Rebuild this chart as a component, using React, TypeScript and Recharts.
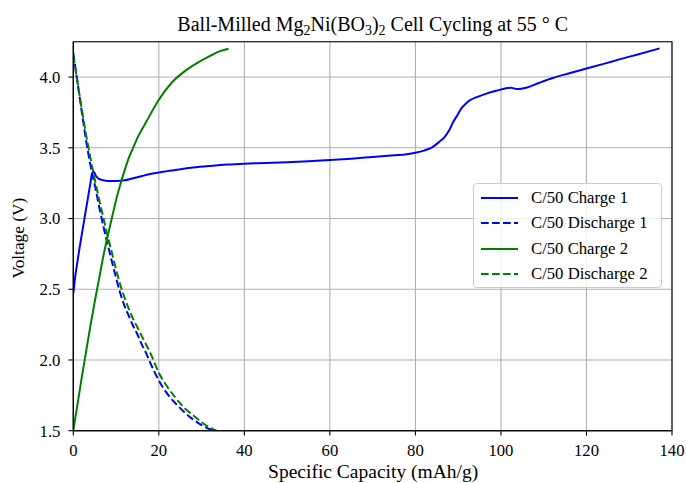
import React from 'react';
import { LineChart, Line, XAxis, YAxis, CartesianGrid, Legend, ReferenceArea } from 'recharts';

// Charge 1 (blue solid)
const charge1Cap = [0, 0.5, 1, 1.5, 2, 2.5, 3, 3.5, 4, 4.4, 4.8, 5.3, 6, 7, 8, 10, 12, 14, 16, 18, 20, 22, 25, 28, 32, 36, 40, 45, 50, 55, 60, 65, 70, 75, 78, 80, 82, 84, 85.5, 86.8, 88, 88.8, 89.8, 90.7, 91.7, 92.7, 94.5, 96.6, 98.5, 100.1, 101.5, 102.4, 103, 103.7, 104.8, 105.9, 109, 112.1, 116, 120, 124, 127.7, 132, 137.1];
const charge1V = [2.47, 2.6, 2.7, 2.8, 2.89, 2.98, 3.07, 3.16, 3.25, 3.32, 3.33, 3.3, 3.28, 3.27, 3.265, 3.265, 3.27, 3.285, 3.3, 3.315, 3.325, 3.335, 3.348, 3.36, 3.372, 3.382, 3.388, 3.392, 3.397, 3.404, 3.413, 3.423, 3.435, 3.447, 3.455, 3.465, 3.48, 3.505, 3.54, 3.576, 3.63, 3.68, 3.73, 3.777, 3.81, 3.835, 3.86, 3.883, 3.9, 3.913, 3.922, 3.925, 3.92, 3.915, 3.918, 3.925, 3.96, 3.993, 4.027, 4.06, 4.093, 4.125, 4.16, 4.203];

// Discharge 1 (blue dashed)
const discharge1Cap = [0, 1, 2, 3, 4, 5, 6, 7, 8, 9, 10, 11, 12, 13, 14, 15, 16, 17, 18, 20, 22, 24, 26, 28, 30, 32, 33];
const discharge1V = [4.17, 3.96, 3.75, 3.55, 3.38, 3.24, 3.09, 2.95, 2.82, 2.7, 2.58, 2.47, 2.38, 2.31, 2.24, 2.18, 2.11, 2.05, 1.98, 1.855, 1.76, 1.69, 1.63, 1.58, 1.54, 1.51, 1.5];

// Charge 2 (green solid)
const charge2Cap = [0, 1, 2, 3, 4, 5, 6, 7, 8, 9, 10, 11, 12, 13, 14, 15, 17, 20, 23, 26, 29, 32, 34, 36.3];
const charge2V = [1.5, 1.69, 1.88, 2.06, 2.24, 2.41, 2.57, 2.73, 2.87, 3.0, 3.13, 3.24, 3.34, 3.43, 3.5, 3.57, 3.68, 3.84, 3.96, 4.04, 4.1, 4.15, 4.18, 4.2];

// Discharge 2 (green dashed)
const discharge2Cap = [0, 1, 2, 3, 4, 5, 6, 7, 8, 9, 10, 11, 12, 13, 14, 15, 16, 17, 18, 20, 22, 24, 26, 28, 30, 32, 33.5];
const discharge2V = [4.15, 3.96, 3.77, 3.59, 3.43, 3.28, 3.14, 3.01, 2.88, 2.76, 2.64, 2.53, 2.44, 2.36, 2.29, 2.23, 2.17, 2.11, 2.05, 1.91, 1.81, 1.73, 1.66, 1.61, 1.56, 1.52, 1.5];

const xTicks = [0, 20, 40, 60, 80, 100, 120, 140];
const yTicks = [1.5, 2.0, 2.5, 3.0, 3.5, 4.0];

const seriesNames = ['C/50 Charge 1', 'C/50 Discharge 1', 'C/50 Charge 2', 'C/50 Discharge 2'];
const seriesColors = ['#0000ff', '#0000ff', '#008000', '#008000'];
const seriesDashed = [false, true, false, true];

const toPoints = (xs: number[], ys: number[]) => xs.map((x, i) => ({ x, v: ys[i] }));
const seriesData = [
  toPoints(charge1Cap, charge1V),
  toPoints(discharge1Cap, discharge1V),
  toPoints(charge2Cap, charge2V),
  toPoints(discharge2Cap, discharge2V),
];

const FONT = '"Liberation Serif", "Times New Roman", serif';
const DASH = '7.7 3.3';

const XLabel = (props: any) => {
  const vb = props.viewBox || {};
  return (
    <text x={vb.x + vb.width / 2 + 0.5} y={vb.y + 47.5} textAnchor="middle" fontFamily={FONT} fontSize={19.5} fill="#000">
      Specific Capacity (mAh/g)
    </text>
  );
};

const YLabel = (props: any) => {
  const vb = props.viewBox || {};
  const cx = 24.3;
  const cy = vb.y + vb.height / 2 + 2;
  return (
    <text x={cx} y={cy} transform={`rotate(-90 ${cx} ${cy})`} textAnchor="middle" fontFamily={FONT} fontSize={17.3} fill="#000">
      Voltage (V)
    </text>
  );
};

const LegendBox = () => (
  <div
    style={{
      position: 'relative',
      width: 189,
      height: 105,
      boxSizing: 'border-box',
      border: '1px solid #cccccc',
      borderRadius: 4,
      background: 'rgba(255,255,255,0.8)',
      fontFamily: FONT,
      fontSize: 16.7,
      color: '#000',
    }}
  >
    {seriesNames.map((name, i) => (
      <div key={name} style={{ position: 'absolute', left: 0, top: 14 + 25.3 * i - 10, height: 20, width: 189 }}>
        <svg width={50} height={20} style={{ position: 'absolute', left: 0, top: 0 }}>
          <line x1={7} x2={44} y1={10} y2={10} stroke={seriesColors[i]} strokeWidth={2} strokeDasharray={seriesDashed[i] ? DASH : undefined} />
        </svg>
        <span style={{ position: 'absolute', left: 57, top: 0, lineHeight: '20px', whiteSpace: 'nowrap' }}>{name}</span>
      </div>
    ))}
  </div>
);

export default function App() {
  return (
    <div style={{ position: 'absolute', left: 0, top: 0, width: 686, height: 483, background: '#fff', overflow: 'hidden' }}>
      <LineChart width={686} height={483} margin={{ top: 41.7, right: 14, left: 0, bottom: 0 }}>
        <CartesianGrid stroke="#b0b0b0" strokeWidth={1.1} vertical horizontal />
        <XAxis
          dataKey="x"
          type="number"
          domain={[0, 140]}
          ticks={xTicks}
          allowDataOverflow
          height={52.3}
          tickSize={4.9}
          tickMargin={9}
          axisLine={{ stroke: '#000', strokeWidth: 1.1 }}
          tickLine={{ stroke: '#000', strokeWidth: 1.1 }}
          tick={{ fontFamily: FONT, fontSize: 16.7, fill: '#000' }}
          label={<XLabel />}
        />
        <YAxis
          type="number"
          domain={[1.5, 4.25]}
          ticks={yTicks}
          allowDataOverflow
          width={73.3}
          tickSize={4.9}
          tickMargin={8}
          tickFormatter={(v: number) => v.toFixed(1)}
          axisLine={{ stroke: '#000', strokeWidth: 1.1 }}
          tickLine={{ stroke: '#000', strokeWidth: 1.1 }}
          tick={{ fontFamily: FONT, fontSize: 16.7, fill: '#000' }}
          label={<YLabel />}
        />
        <ReferenceArea x1={0} x2={140} y1={1.5} y2={4.25} fill="none" stroke="#000" strokeWidth={1.1} fillOpacity={0} />
        {seriesData.map((d, i) => (
          <Line
            key={seriesNames[i]}
            data={d}
            dataKey="v"
            name={seriesNames[i]}
            type="monotoneX"
            stroke={seriesColors[i]}
            strokeWidth={2}
            strokeDasharray={seriesDashed[i] ? DASH : undefined}
            dot={false}
            activeDot={false}
            isAnimationActive={false}
          />
        ))}
        <Legend
          layout="horizontal"
          verticalAlign="middle"
          align="center"
          content={() => <LegendBox />}
          wrapperStyle={{ position: 'absolute', left: 473, top: 183, width: 189, height: 105 }}
        />
      </LineChart>
      <svg width={686} height={50} style={{ position: 'absolute', left: 0, top: 0, pointerEvents: 'none' }}>
        <text x={372.7} y={31} textAnchor="middle" fontFamily={FONT} fontSize={20} fill="#000">
          Ball-Milled Mg
          <tspan fontSize={14} dy={4}>2</tspan>
          <tspan fontSize={20} dy={-4}>Ni(BO</tspan>
          <tspan fontSize={14} dy={4}>3</tspan>
          <tspan fontSize={20} dy={-4}>)</tspan>
          <tspan fontSize={14} dy={4}>2</tspan>
          <tspan fontSize={20} dy={-4}>{' Cell Cycling at 55 ° C'}</tspan>
        </text>
      </svg>
    </div>
  );
}
